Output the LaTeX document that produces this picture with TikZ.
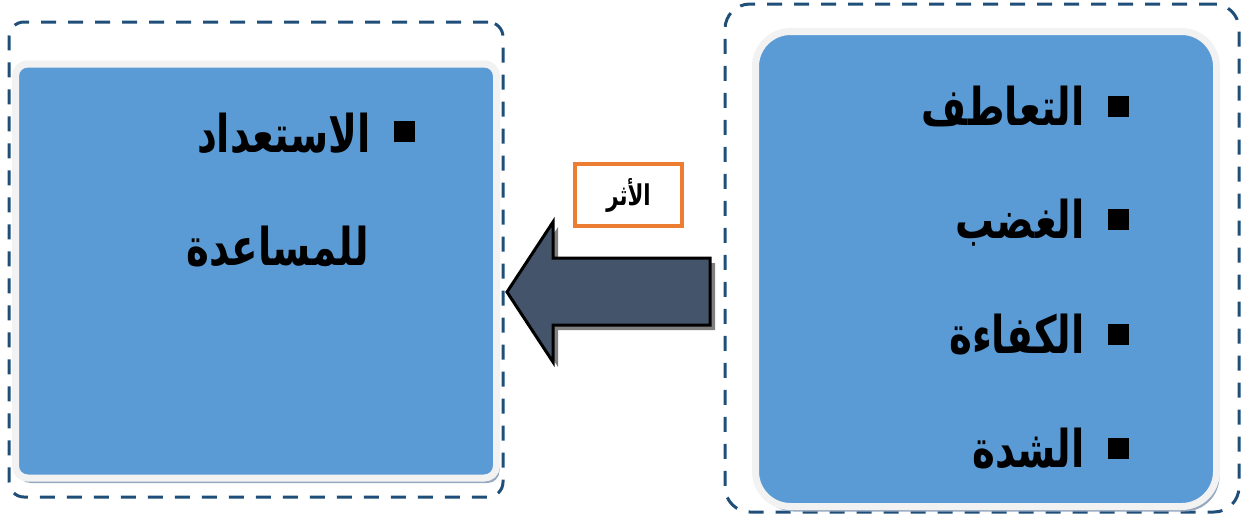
\documentclass[tikz,border=0pt]{standalone}
\usepackage{fontspec}
\usepackage{graphicx}
\newfontfamily\arabicfont[Script=Arabic]{DejaVu Sans}
\TeXXeTstate=1
\usetikzlibrary{positioning, calc, shadows}

\definecolor{dashblue}{HTML}{1F4E79}
\definecolor{boxblue}{HTML}{5B9BD5}
\definecolor{rimgray}{HTML}{F2F2F2}
\definecolor{shadowblue}{HTML}{97A9C0}
\definecolor{arrowslate}{HTML}{44546A}
\definecolor{tagorange}{HTML}{ED7D31}

% tall bold Arabic word
\newcommand{\arword}[1]{\scalebox{0.97}[1.3]{\arabicfont\bfseries\beginR #1\endR}}
% label with its square bullet on the right
\newcommand{\sqitem}[2][8.5pt]{\arword{#2}\hspace{23pt}\raisebox{#1}{\rule{21pt}{21pt}}}

\begin{document}
\begin{tikzpicture}[
    x=1pt, y=-1pt,
    frame/.style={draw=dashblue, line width=3pt, dash pattern=on 15pt off 12pt, rounded corners=#1},
    frame/.default=15pt,
    panel/.style={draw=rimgray, fill=boxblue, line width=7pt, rounded corners=#1,
        drop shadow={shadow xshift=3pt, shadow yshift=-5pt, fill=shadowblue, opacity=1}},
    panel/.default=12pt,
    itemtext/.style={inner sep=0pt, font=\fontsize{40}{48}\selectfont},
    tag/.style={draw=tagorange, line width=4pt, fill=white, minimum width=107pt, minimum height=62pt,
        font=\fontsize{22}{26}\selectfont}
]
\useasboundingbox (0,0) rectangle (1247,515);

% outer dashed frames
\node[frame, minimum width=494pt, minimum height=475pt] (leftframe) at (256,259.5) {};
\node[frame=25pt, minimum width=514pt, minimum height=508pt] (rightframe) at (982,258) {};

% blue panels
\node[panel, minimum width=481pt, minimum height=414pt] (leftpanel) at (256,271) {};
\node[panel=35pt, minimum width=461pt, minimum height=475pt] (rightpanel) at (986,269) {};

% factors
\node[itemtext, anchor=base east] (sympathy) at (1129,125) {\sqitem{التعاطف}};
\node[itemtext, anchor=base east] (anger) at (1129,238) {\sqitem{الغضب}};
\node[itemtext, anchor=base east] (competence) at (1129,353) {\sqitem{الكفاءة}};
\node[itemtext, anchor=base east] (intensity) at (1129,467) {\sqitem{الشدة}};

% outcome
\node[itemtext, anchor=base east] (readiness) at (415,152) {\sqitem[10pt]{الاستعداد}};
\node[itemtext, anchor=base east] (helping) at (369,265) {\arword{للمساعدة}};

% effect arrow
\coordinate (tip) at (507,292);
\coordinate (tail) at (710,292);
\fill[gray] ($(tip)+(5,5)$) -- ++(46,-70) -- ++(0,36) -- ($(tail)+(5,-29)$) -- ++(0,67) -- ++(-157,0) -- ++(0,37) -- cycle;
\draw[fill=arrowslate, line width=3pt, line join=miter] (tip) -- ++(46,-70) -- ++(0,36) -- ($(tail)+(0,-34)$) -- ++(0,67) -- ++(-157,0) -- ++(0,37) -- cycle;

\node[tag] (effect) at (628.5,195) {\arword{الأثر}};

\end{tikzpicture}
\end{document}
